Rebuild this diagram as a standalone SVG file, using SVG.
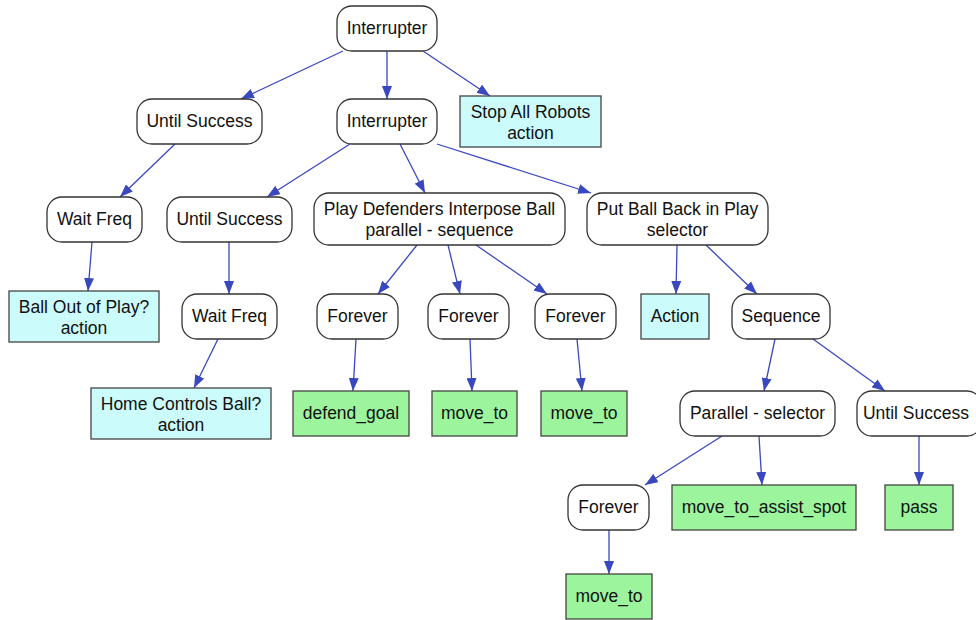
<svg xmlns="http://www.w3.org/2000/svg" width="976" height="620" viewBox="0 0 976 620">
<defs>
<marker id="ah" markerWidth="13" markerHeight="10" refX="13" refY="5" orient="auto" markerUnits="userSpaceOnUse">
<path d="M0,0 L13,5 L0,10 z" fill="#3a48c0"/>
</marker>
<style>
.r{fill:#ffffff;stroke:#333333;stroke-width:1.3}
.c{fill:#ccfbfb;stroke:#444444;stroke-width:1.3}
.g{fill:#9cf59c;stroke:#444444;stroke-width:1.3}
text{font-family:"Liberation Sans",Arial,sans-serif;font-size:17.5px;fill:#111111;text-anchor:middle}
.e line{stroke:#3a48c0;stroke-width:1.3;marker-end:url(#ah)}
</style>
</defs>
<rect width="976" height="620" fill="#ffffff"/>
<g class="e" id="connectors">
<line x1="343" y1="51" x2="241" y2="99"/>
<line x1="387" y1="51" x2="387" y2="99"/>
<line x1="423" y1="51" x2="490" y2="96"/>
<line x1="175" y1="144" x2="120" y2="197"/>
<line x1="350" y1="144" x2="267" y2="197"/>
<line x1="400" y1="144" x2="425" y2="193"/>
<line x1="437" y1="144" x2="591" y2="193"/>
<line x1="92" y1="242" x2="88" y2="291"/>
<line x1="229" y1="242" x2="229" y2="294"/>
<line x1="218" y1="339" x2="194" y2="388"/>
<line x1="417" y1="245" x2="378" y2="294"/>
<line x1="448" y1="245" x2="460" y2="294"/>
<line x1="476" y1="245" x2="547" y2="294"/>
<line x1="356" y1="339" x2="353" y2="391"/>
<line x1="470" y1="339" x2="472" y2="391"/>
<line x1="577" y1="339" x2="582" y2="391"/>
<line x1="677" y1="245" x2="676" y2="294"/>
<line x1="706" y1="245" x2="757" y2="294"/>
<line x1="775" y1="339" x2="764" y2="391"/>
<line x1="813" y1="339" x2="885" y2="391"/>
<line x1="722" y1="436" x2="645" y2="485"/>
<line x1="759" y1="436" x2="762" y2="485"/>
<line x1="919" y1="436" x2="919" y2="485"/>
<line x1="609" y1="530" x2="609" y2="574"/>
</g>
<g id="interrupter1"><rect class="r" x="337" y="6" width="100" height="45" rx="15"/><text x="387" y="34">Interrupter</text></g>
<g id="interrupter2"><rect class="r" x="337" y="99" width="100" height="45" rx="15"/><text x="387" y="127">Interrupter</text></g>
<g id="stop-all"><rect class="c" x="460" y="96" width="141" height="51"/><text x="530.5" y="117.5">Stop All Robots</text><text x="530.5" y="138.5">action</text></g>
<g id="until-success1"><rect class="r" x="137" y="99" width="125" height="45" rx="15"/><text x="199.5" y="127">Until Success</text></g>
<g id="wait-freq1"><rect class="r" x="47" y="197" width="95" height="45" rx="15"/><text x="94.5" y="225">Wait Freq</text></g>
<g id="until-success2"><rect class="r" x="167" y="197" width="125" height="45" rx="15"/><text x="229.5" y="225">Until Success</text></g>
<g id="ball-out"><rect class="c" x="9" y="291" width="150" height="51"/><text x="84" y="312.5">Ball Out of Play?</text><text x="84" y="333.5">action</text></g>
<g id="wait-freq2"><rect class="r" x="182" y="294" width="95" height="45" rx="15"/><text x="229.5" y="322">Wait Freq</text></g>
<g id="home-controls"><rect class="c" x="91" y="388" width="180" height="51"/><text x="181" y="409.5">Home Controls Ball?</text><text x="181" y="430.5">action</text></g>
<g id="play-defenders"><rect class="r" x="314" y="193" width="251" height="52" rx="15"/><text x="439.5" y="214.5">Play Defenders Interpose Ball</text><text x="439.5" y="235.5">parallel - sequence</text></g>
<g id="forever1"><rect class="r" x="317" y="294" width="81" height="45" rx="15"/><text x="357.5" y="322">Forever</text></g>
<g id="forever2"><rect class="r" x="428" y="294" width="81" height="45" rx="15"/><text x="468.5" y="322">Forever</text></g>
<g id="forever3"><rect class="r" x="535" y="294" width="81" height="45" rx="15"/><text x="575.5" y="322">Forever</text></g>
<g id="defend-goal"><rect class="g" x="293" y="391" width="116" height="45"/><text x="351" y="419">defend_goal</text></g>
<g id="move-to1"><rect class="g" x="432" y="391" width="85" height="45"/><text x="474.5" y="419">move_to</text></g>
<g id="move-to2"><rect class="g" x="541" y="391" width="86" height="45"/><text x="584" y="419">move_to</text></g>
<g id="put-ball-back"><rect class="r" x="587" y="193" width="181" height="52" rx="15"/><text x="677.5" y="214.5">Put Ball Back in Play</text><text x="677.5" y="235.5">selector</text></g>
<g id="action"><rect class="c" x="641" y="294" width="68" height="45"/><text x="675" y="322">Action</text></g>
<g id="sequence"><rect class="r" x="732" y="294" width="98" height="45" rx="15"/><text x="781" y="322">Sequence</text></g>
<g id="parallel-selector"><rect class="r" x="680" y="391" width="155" height="45" rx="15"/><text x="757.5" y="419">Parallel - selector</text></g>
<g id="until-success3"><rect class="r" x="857" y="391" width="125" height="45" rx="15"/><text x="916" y="419">Until Success</text></g>
<g id="forever4"><rect class="r" x="568" y="485" width="81" height="45" rx="15"/><text x="608.5" y="513">Forever</text></g>
<g id="move-to-assist"><rect class="g" x="672" y="485" width="184" height="45"/><text x="764" y="513">move_to_assist_spot</text></g>
<g id="pass"><rect class="g" x="885" y="485" width="68" height="45"/><text x="919" y="513">pass</text></g>
<g id="move-to3"><rect class="g" x="566" y="574" width="86" height="45"/><text x="609" y="602">move_to</text></g>
</svg>
